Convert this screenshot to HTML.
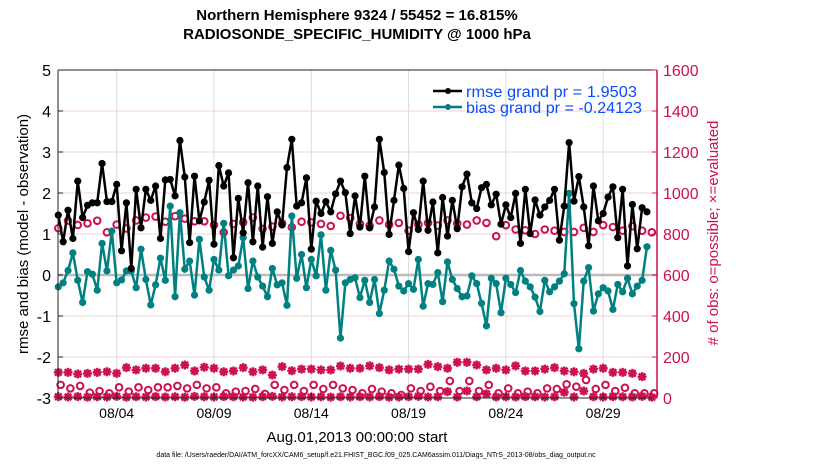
<!DOCTYPE html>
<html><head><meta charset="utf-8"><style>
body{margin:0;background:#fff;}
svg{display:block;font-family:"Liberation Sans",Arial,sans-serif;}
</style></head><body>
<svg id="chart" width="830" height="470" viewBox="0 0 830 470" xmlns="http://www.w3.org/2000/svg">
<rect width="830" height="470" fill="#fff"/>
<g id="grid"></g>
<g id="series"></g>
<g id="axes"></g>
<text x="357" y="20" text-anchor="middle" font-size="15" font-weight="bold">Northern Hemisphere 9324 / 55452 = 16.815%</text>
<text x="357" y="39" text-anchor="middle" font-size="15" font-weight="bold">RADIOSONDE_SPECIFIC_HUMIDITY @ 1000 hPa</text>
<text transform="translate(28,234) rotate(-90)" text-anchor="middle" font-size="15">rmse and bias (model - observation)</text>
<text transform="translate(718,233) rotate(-90)" text-anchor="middle" font-size="15" fill="#cc1050"># of obs: o=possible; ×=evaluated</text>
<text x="357" y="442" text-anchor="middle" font-size="15">Aug.01,2013 00:00:00 start</text>
<text x="376" y="457" text-anchor="middle" font-size="7">data file: /Users/raeder/DAI/ATM_forcXX/CAM6_setup/f.e21.FHIST_BGC.f09_025.CAM6assim.011/Diags_NTrS_2013-08/obs_diag_output.nc</text>
<g>
<line x1="433" y1="91" x2="462" y2="91" stroke="#000" stroke-width="2.5"/><circle cx="448" cy="91" r="3" fill="#000"/>
<text x="466" y="97" font-size="16" textLength="171" lengthAdjust="spacingAndGlyphs" fill="#0a4cff">rmse grand pr = 1.9503</text>
<line x1="433" y1="107" x2="462" y2="107" stroke="#008080" stroke-width="2.5"/><circle cx="448" cy="107" r="3" fill="#008080"/>
<text x="466" y="113" font-size="16" textLength="176" lengthAdjust="spacingAndGlyphs" fill="#0a4cff">bias grand pr = -0.24123</text>
</g>
</svg>
<script>
const rmse=[1.46,0.81,1.58,0.89,2.29,1.40,1.70,1.76,1.76,2.72,1.79,1.79,2.21,0.59,1.76,0.16,2.09,1.15,2.09,1.82,2.17,0.89,2.32,2.33,1.93,3.28,2.39,0.79,2.41,1.32,1.78,
2.31,0.75,2.67,2.17,2.49,0.42,1.87,1.03,2.25,0.81,2.17,0.68,1.91,0.77,1.54,1.22,2.62,3.31,1.68,1.76,2.37,0.63,1.80,1.50,1.79,1.54,1.98,2.29,2.01,1.01,
1.93,1.17,2.41,1.15,1.66,3.31,2.50,0.99,1.82,2.68,2.11,0.57,1.52,1.11,2.29,1.09,1.78,0.54,1.89,0.95,1.82,1.13,2.15,2.46,1.76,1.62,2.13,2.21,1.71,1.97,
1.24,1.71,1.40,1.99,0.77,2.09,1.01,1.83,1.46,1.66,1.82,2.09,0.85,1.68,3.23,1.80,2.40,1.66,0.71,2.17,1.32,1.50,1.90,2.15,0.91,2.09,0.22,1.72,0.64,1.64,1.54];
const bias=[-0.29,-0.19,0.11,0.54,-0.13,-0.67,0.08,0.02,-0.37,0.77,0.10,1.07,-0.19,-0.12,0.10,0.10,-0.31,0.63,-0.11,-0.73,-0.24,0.41,-0.13,1.68,-0.53,1.52,0.14,0.34,-0.49,0.87,-0.05,
-0.37,0.38,0.12,1.26,-0.02,0.12,0.22,0.91,-0.33,0.34,-0.05,-0.27,-0.53,0.16,-0.24,-0.19,-0.74,1.44,-0.08,0.50,-0.31,0.38,-0.02,0.98,-0.37,0.60,0.12,-1.54,-0.19,-0.11,
-0.07,-0.55,-0.13,-0.67,-0.11,-0.94,-0.37,0.34,0.14,-0.27,-0.39,-0.21,-0.35,0.38,-0.76,-0.21,-0.23,0.06,-0.65,0.32,-0.11,-0.33,-0.53,-0.51,-0.02,-0.21,-0.69,-1.24,-0.08,-0.21,
-0.92,-0.08,-0.23,-0.43,0.11,-0.15,-0.29,-0.54,-0.89,-0.13,-0.41,-0.29,-0.15,0.03,1.99,-0.70,-1.80,-0.15,0.18,-0.88,-0.46,-0.31,-0.39,-0.84,-0.23,-0.41,-0.08,-0.46,-0.27,-0.13,0.69];
const obsUsedHigh=[828,865,844,852,865,808,846,827,866,880,885,860,887,875,862,862,
844,808,849,857,880,825,836,852,833,860,857,849,839,889,878,849,
841,866,846,854,816,846,854,841,866,851,846,866,854,789,843,822,
818,800,822,816,810,810,830,810,843,834,816,838,816,808];
const possibleHigh=[125,125,117,120,125,128,120,148,137,145,145,128,145,161,132,150,145,128,132,148,128,137,112,153,133,141,141,137,137,156,145,145,
157,148,137,141,141,141,164,153,145,174,174,161,137,145,137,157,132,132,141,148,132,128,120,141,145,125,125,120,104];
const possibleLow=[64,47,59,26,34,23,52,31,52,39,52,52,59,47,64,47,52,23,31,34,44,20,64,39,64,34,64,44,64,47,39,
23,44,31,23,15,47,34,55,34,83,34,83,34,64,23,47,23,31,23,47,44,67,55,88,44,64,34,50,23,23,23];
const evaluatedLow=[6,5,7,4,6,5,8,4,6,5,7,5,6,4,8,6,5,7,6,5,4,6,8,5,6,7,5,6,4,6,5,
6,5,7,4,5,6,8,5,6,31,5,34,6,20,5,6,5,7,6,5,6,28,5,34,6,5,7,6,5,8,4];
const xTicks=[3,8,13,18,23,28];
const xTickLabels=["08/04","08/09","08/14","08/19","08/24","08/29"];
const yTicks=[-3,-2,-1,0,1,2,3,4,5];
const rTicks=[0,200,400,600,800,1000,1200,1400,1600];

const NS="http://www.w3.org/2000/svg";
const L=58,R=657,T=70,B=398;
const x0=58.3,pxDay=19.46;
function X(t){return x0+t*pxDay;}
function Y(v){return 275+(0-v)*41;}
function YR(n){return B-(n/1600)*(B-T);}
function mk(tag,attrs,parent){const e=document.createElementNS(NS,tag);for(const k in attrs)e.setAttribute(k,attrs[k]);parent.appendChild(e);return e;}
const grid=document.getElementById('grid'),ser=document.getElementById('series'),ax=document.getElementById('axes');
const MAG="#cc1050";
xTicks.forEach(t=>{const g=mk('line',{x1:X(t),x2:X(t),y1:T,y2:B,stroke:'#dcdcdc','stroke-width':1},grid);

});
rTicks.forEach(n=>{const g=mk('line',{x1:L,x2:R,y1:YR(n),y2:YR(n),stroke:'#f3cfdc','stroke-width':1},grid);

});
const zl=mk('line',{x1:L,x2:R,y1:Y(0),y2:Y(0),stroke:'#bbb','stroke-width':2.5},grid);


function circ(cx,cy,name){const c=mk('circle',{cx:cx,cy:cy,r:3.3,fill:'none',stroke:MAG,'stroke-width':2},ser);

}
function star(cx,cy,name){const g=mk('path',{d:`M${cx-4.5},${cy}H${cx+4.5}M${cx},${cy-4.5}V${cy+4.5}M${cx-3.3},${cy-3.3}L${cx+3.3},${cy+3.3}M${cx-3.3},${cy+3.3}L${cx+3.3},${cy-3.3}`,stroke:MAG,'stroke-width':2.4},ser);

}
obsUsedHigh.forEach((n,k)=>circ(X(k*0.5),YR(n),'obs-evaluated-circle'));
possibleHigh.forEach((n,k)=>star(X(k*0.5),YR(n),'obs-possible-star'));
possibleLow.forEach((n,k)=>circ(X(k*0.5+0.12),YR(n),'obs-possible-low-circle'));
evaluatedLow.forEach((n,k)=>star(X(k*0.5),YR(n),'obs-evaluated-low-star'));
function series(arr,color,name){
 const pts=arr.map((v,i)=>X(i*0.25)+','+Y(v)).join(' ');
 const p=mk('polyline',{points:pts,fill:'none',stroke:color,'stroke-width':2.5,'stroke-linejoin':'round'},ser);
 
 
 arr.forEach((v,i)=>{const c=mk('circle',{cx:X(i*0.25),cy:Y(v),r:3.6,fill:color},ser);
 
 });
}
series(bias,'#008080','bias');
series(rmse,'#000','rmse');
const f=mk('path',{d:`M${L},${T}H${R}M${L},${T}V${B}H${R}`,fill:'none',stroke:'#222','stroke-width':1},ax);


const ra=mk('line',{x1:R,x2:R,y1:T,y2:B,stroke:MAG,'stroke-width':1.5},ax);


yTicks.forEach(v=>{mk('line',{x1:L,x2:L+5,y1:Y(v),y2:Y(v),stroke:'#222'},ax);
const t=mk('text',{x:L-7,y:Y(v)+6,'text-anchor':'end','font-size':16},ax);t.textContent=v;

});
rTicks.forEach(n=>{mk('line',{x1:R-5,x2:R,y1:YR(n),y2:YR(n),stroke:MAG},ax);
const t=mk('text',{x:R+6,y:YR(n)+6,'font-size':16,fill:MAG},ax);t.textContent=n;

});
xTicks.forEach((t,i)=>{mk('line',{x1:X(t),x2:X(t),y1:B,y2:B-5,stroke:'#222'},ax);
const e=mk('text',{x:X(t),y:418,'text-anchor':'middle','font-size':14},ax);e.textContent=xTickLabels[i];

});
</script>
</body></html>
